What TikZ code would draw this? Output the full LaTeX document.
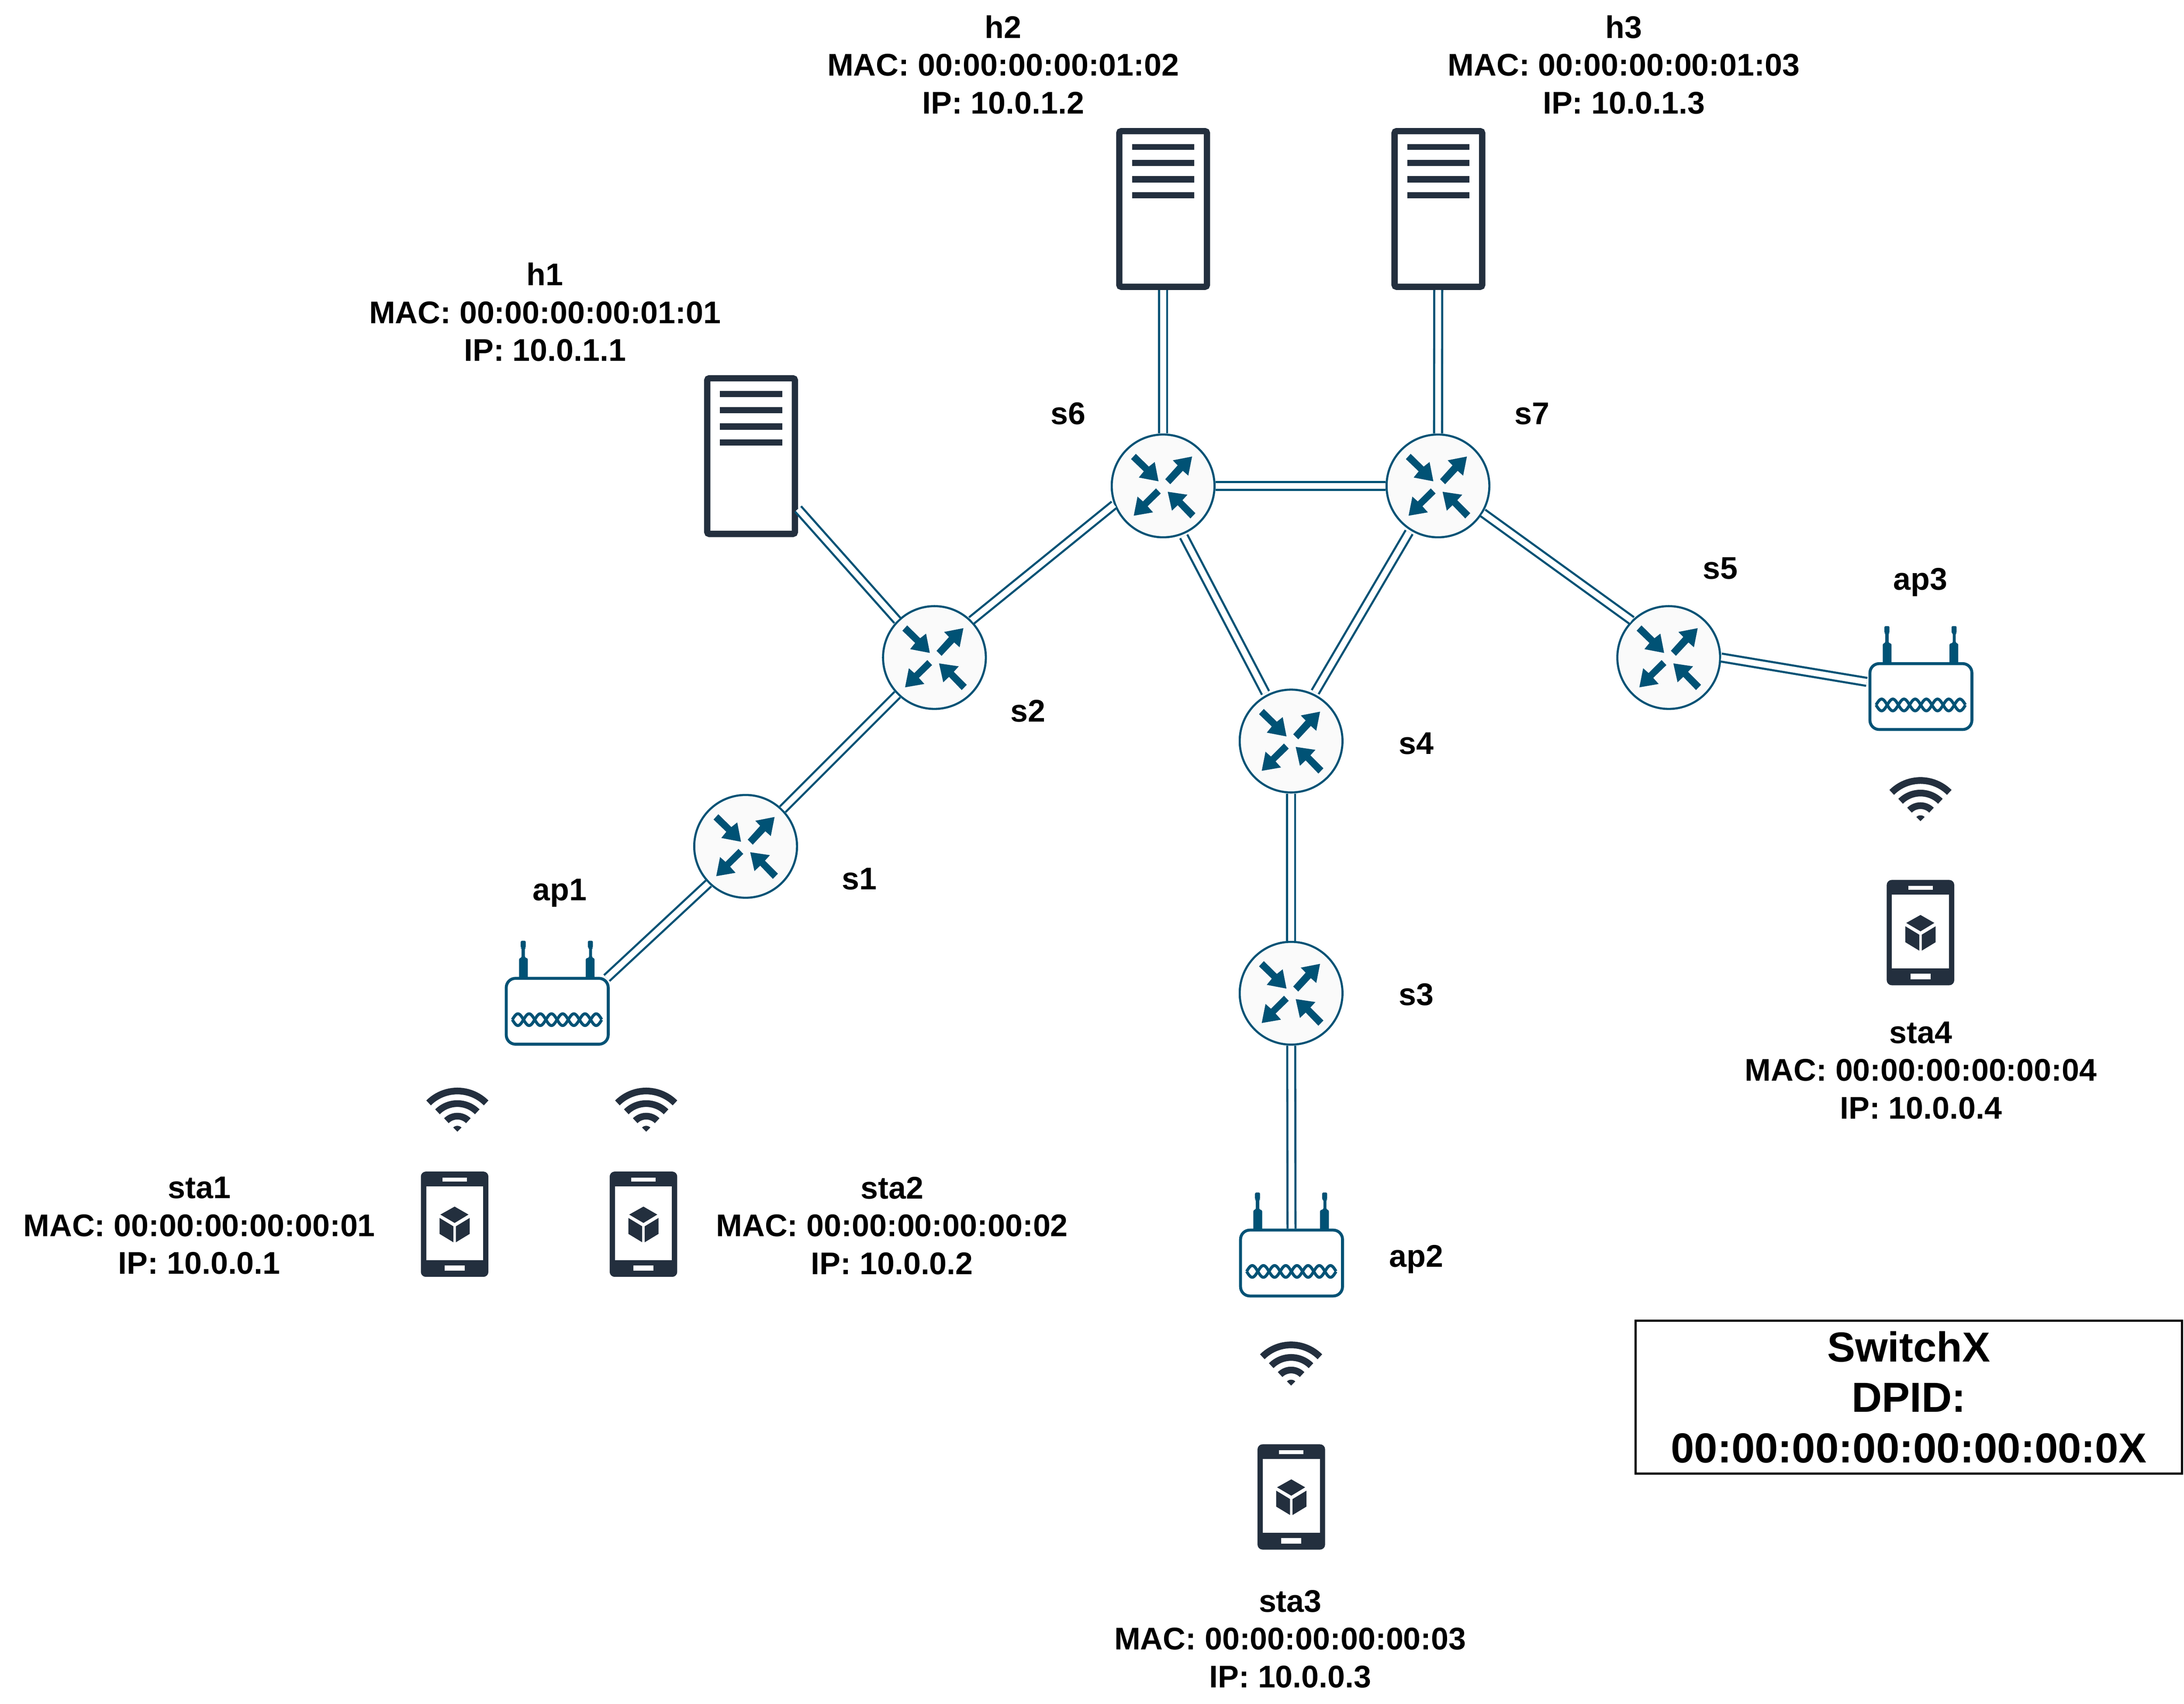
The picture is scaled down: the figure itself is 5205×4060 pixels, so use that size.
\documentclass[tikz,border=0pt]{standalone}
\usepackage{fontspec}
\setmainfont{Liberation Sans}
\definecolor{linkblue}{HTML}{005275}
\definecolor{dark}{HTML}{232F3E}
\definecolor{routerfill}{HTML}{FAFAFA}
\tikzset{
  routernode/.style={circle,draw=linkblue,fill=routerfill,line width=.5pt,minimum size=24.5pt,inner sep=0pt},
  servernode/.style={rectangle,draw=dark,fill=white,line width=1.5pt,rounded corners=.5pt,minimum width=20.9pt,minimum height=37.1pt,inner sep=0pt},
  apnode/.style={rectangle,draw=linkblue,fill=white,line width=.7pt,rounded corners=2.2pt,minimum width=24.3pt,minimum height=15.7pt,inner sep=0pt},
  netlink/.style={draw=linkblue,line width=.5pt,double=white,double distance=1.4pt},
  lbl/.style={font=\fontsize{7.47}{9}\selectfont\bfseries,align=center,inner sep=0pt,text=black},
  legendbox/.style={draw=black,line width=.5pt,fill=white,minimum width=130.2pt,minimum height=36.5pt,inner sep=0pt,align=center,font=\fontsize{10}{12}\selectfont\bfseries},
  routerarrows/.pic={
    \fill[linkblue] (-76.5,-64)--(-65,-76.5)--(-34,-46)--(-20,-57)--(-11,-11)--(-58,-20)--(-46,-34.7)--cycle;
    \fill[linkblue] (69,-70)--(23,-61)--(34.7,-49)--(5,-16)--(17,-4)--(47,-36)--(60,-24.5)--cycle;
    \fill[linkblue] (-70,71)--(-61,25.5)--(-48,37)--(-17,6)--(-5.6,18)--(-37,48.5)--(-24,63)--cycle;
    \fill[linkblue] (11,14)--(58,21)--(46,34)--(77,65)--(65,77.5)--(34.7,46)--(21,59)--cycle;
  },
  serverlines/.pic={
    \fill[dark] (-74,-155) rectangle (74,-140.5);
    \fill[dark] (-74,-117) rectangle (74,-102);
    \fill[dark] (-74,-78) rectangle (74,-63);
    \fill[dark] (-74,-40) rectangle (74,-25);
  },
  apantennas/.pic={
    \fill[linkblue,rounded corners=.3pt] (-91,-78) -- (-91,-126) -- (-85,-128) -- (-85,-151) -- (-87,-151) -- (-87,-168) -- (-75,-168) -- (-75,-151) -- (-77,-151) -- (-77,-128) -- (-70,-126) -- (-70,-78) -- cycle;
    \fill[linkblue,rounded corners=.3pt] (68,-78) -- (68,-126) -- (76,-128) -- (76,-151) -- (73,-151) -- (73,-168) -- (85,-168) -- (85,-151) -- (83,-151) -- (83,-128) -- (89,-126) -- (89,-78) -- cycle;
  },
  aptwist/.pic={
    \draw[linkblue,line width=.7pt] plot[domain=-107:106,samples=120] (\x,{20+14*sin(6.754*(\x+107))});
    \draw[linkblue,line width=.7pt] plot[domain=-107:106,samples=120] (\x,{20-14*sin(6.754*(\x+107))});
  },
  wifi/.pic={
    \draw[dark,line width=1.6pt] plot[domain=225:315,samples=25] ({97*cos(\x)},{97*sin(\x)});
    \draw[dark,line width=1.6pt] plot[domain=225:315,samples=25] ({67*cos(\x)},{67*sin(\x)});
    \draw[dark,line width=1.6pt] plot[domain=225:315,samples=25] ({37*cos(\x)},{37*sin(\x)});
    \fill[dark] (0,0) -- plot[domain=225:315,samples=13] ({14*cos(\x)},{14*sin(\x)}) -- cycle;
  },
  phone/.pic={
    \fill[dark,rounded corners=1.2pt] (-80.5,-125.5) rectangle (80.5,125.5);
    \fill[white] (-68,-90.5) rectangle (68,85.5);
    \fill[white] (-29,-111) rectangle (29,-102);
    \fill[white] (-24,98) rectangle (24,111);
    \fill[dark] (0,-42)--(33,-23)--(0,-3)--(-34,-23)--cycle;
    \fill[dark] (-36,-15)--(-3,5)--(-3,43)--(-36,23)--cycle;
    \fill[dark] (36,-15)--(3,5)--(3,43)--(36,23)--cycle;
  }
}
\begin{document}
\begin{tikzpicture}[x=.1pt,y=-.1pt]
\useasboundingbox (0,0) rectangle (5205,4060);
% switches
\node[routernode] (s1) at (1777,2017) {};
\node[routernode] (s2) at (2227,1567) {};
\node[routernode] (s3) at (3077,2367) {};
\node[routernode] (s4) at (3077,1766) {};
\node[routernode] (s5) at (3977,1567) {};
\node[routernode] (s6) at (2772,1158) {};
\node[routernode] (s7) at (3427,1158) {};
\foreach \n in {s1,s2,s3,s4,s5,s6,s7} \pic (arrows-\n) at (\n) {routerarrows};
% hosts
\node[servernode] (h1) at (1790,1087) {};
\node[servernode] (h2) at (2772,498) {};
\node[servernode] (h3) at (3428,498) {};
\foreach \n in {h1,h2,h3} \pic (lines-\n) at (\n) {serverlines};
% access points
\pic (parts-ap1) at (1328,2410) {apantennas};
\pic (parts-ap2) at (3078,3010) {apantennas};
\pic (parts-ap3) at (4578,1660) {apantennas};
\node[apnode] (ap1) at (1328,2410) {};
\node[apnode] (ap2) at (3078,3010) {};
\node[apnode] (ap3) at (4578,1660) {};
\pic (twist-ap1) at (1328,2410) {aptwist};
\pic (twist-ap2) at (3078,3010) {aptwist};
\pic (twist-ap3) at (4578,1660) {aptwist};
\coordinate (ap3port) at (4449,1625);
\coordinate (ap1port) at (1446,2331);
% links
\draw[netlink] (h1) -- (s2.135);
\draw[netlink] (h2) -- (s6);
\draw[netlink] (h3) -- (s7);
\draw[netlink] (s1.45) -- (s2.225);
\draw[netlink] (s2.45) -- (s6.201);
\draw[netlink] (s6) -- (s7);
\draw[netlink,shorten <=.5pt,shorten >=.5pt] (s6.-68) -- (s4.118);
\draw[netlink,shorten <=.5pt,shorten >=.5pt] (s7.-122.4) -- (s4.64);
\draw[netlink] (s7.-31) -- (s5.135);
\draw[netlink] (s4) -- (s3);
\draw[netlink] (s3) -- (ap2.north);
\draw[netlink] (s1.225) -- (ap1port);
\draw[netlink] (s5.east) -- (ap3port);
% wifi and stations
\pic (wifi1) at (1090,2697) {wifi};
\pic (wifi2) at (1540,2697) {wifi};
\pic (wifi3) at (3077,3302) {wifi};
\pic (wifi4) at (4577,1957) {wifi};
\pic (sta1) at (1083.5,2917.5) {phone};
\pic (sta2) at (1533.5,2917.5) {phone};
\pic (sta3) at (3077.5,3567.5) {phone};
\pic (sta4) at (4577,2222.5) {phone};
% labels
\node[lbl] (tx-h1) at (1299,744) {h1\\MAC: 00:00:00:00:01:01\\IP: 10.0.1.1};
\node[lbl] (tx-h2) at (2391,154) {h2\\MAC: 00:00:00:00:01:02\\IP: 10.0.1.2};
\node[lbl] (tx-h3) at (3870,154) {h3\\MAC: 00:00:00:00:01:03\\IP: 10.0.1.3};
\node[lbl] (tx-sta1) at (475,2921) {sta1\\MAC: 00:00:00:00:00:01\\IP: 10.0.0.1};
\node[lbl] (tx-sta2) at (2126,2921) {sta2\\MAC: 00:00:00:00:00:02\\IP: 10.0.0.2};
\node[lbl] (tx-sta3) at (3075,3906) {sta3\\MAC: 00:00:00:00:00:03\\IP: 10.0.0.3};
\node[lbl] (tx-sta4) at (4578,2551) {sta4\\MAC: 00:00:00:00:00:04\\IP: 10.0.0.4};
\node[lbl] (tx-s1) at (2048,2095) {s1};
\node[lbl] (tx-s2) at (2450,1695) {s2};
\node[lbl] (tx-s3) at (3375,2370) {s3};
\node[lbl] (tx-s4) at (3375,1772) {s4};
\node[lbl] (tx-s5) at (4100,1354) {s5};
\node[lbl] (tx-s6) at (2546,986) {s6};
\node[lbl] (tx-s7) at (3651,986) {s7};
\node[lbl] (tx-ap1) at (1334,2128) {ap1};
\node[lbl] (tx-ap2) at (3375,3001) {ap2};
\node[lbl] (tx-ap3) at (4577,1388) {ap3};
\node[legendbox] (legend) at (4549,3329.5) {SwitchX\\DPID:\\00:00:00:00:00:00:00:0X};
\end{tikzpicture}
\end{document}
